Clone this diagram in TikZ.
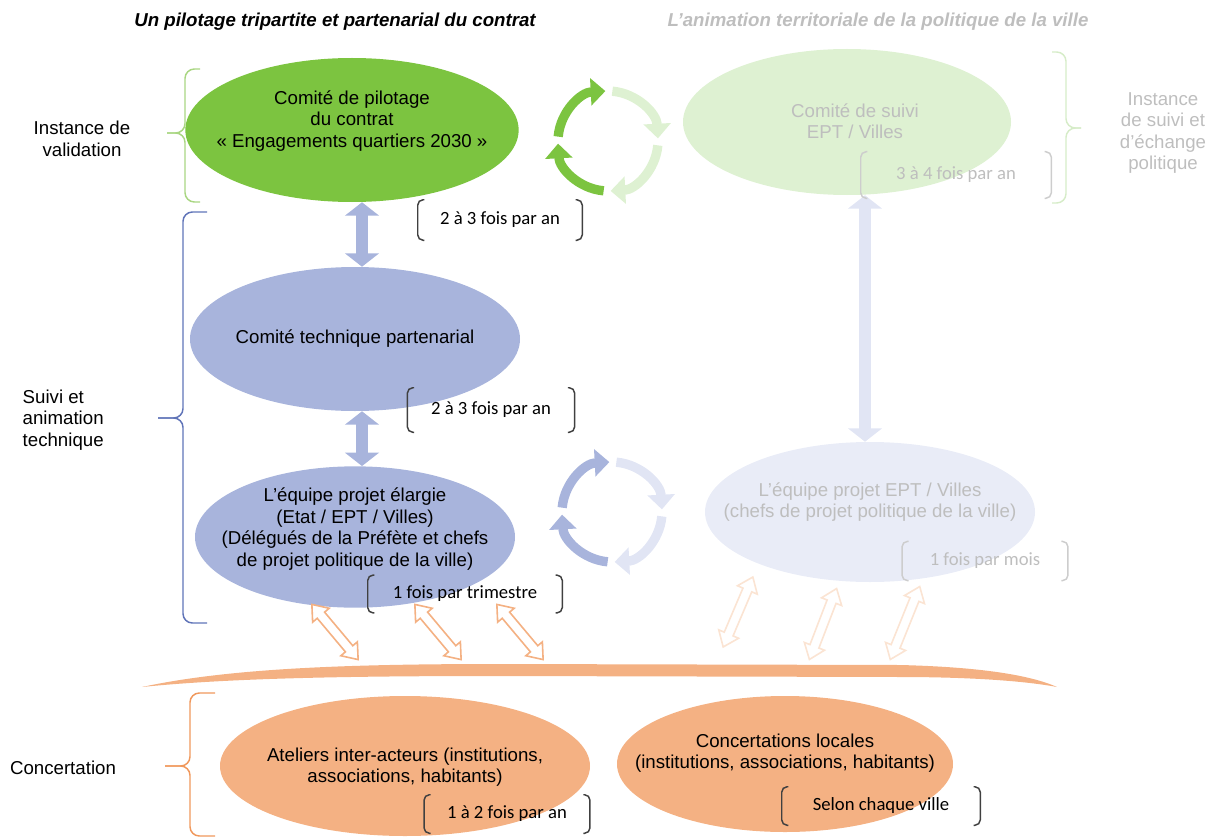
\documentclass[tikz,border=0pt]{standalone}
\usepackage{fontspec}
\setmainfont{Liberation Sans}
\newfontfamily\calibri{Carlito}
\usetikzlibrary{shapes.geometric}
\usetikzlibrary{shapes.arrows}
\usetikzlibrary{arrows.meta}

\definecolor{vert}{RGB}{124,196,64}
\definecolor{vertpale}{RGB}{222,241,210}
\definecolor{vertbrace}{RGB}{169,214,130}
\definecolor{vertbracepale}{RGB}{214,236,200}
\definecolor{bleu}{RGB}{168,180,220}
\definecolor{bleupale}{RGB}{233,236,247}
\definecolor{bleucyc}{RGB}{225,229,244}
\definecolor{bleufonce}{RGB}{96,116,184}
\definecolor{orangec}{RGB}{244,177,131}
\definecolor{orangepale}{RGB}{251,228,211}
\definecolor{orangefonce}{RGB}{240,152,92}
\definecolor{fonce}{RGB}{64,64,64}
\definecolor{gris}{RGB}{190,190,190}
\definecolor{grispale}{RGB}{205,205,205}

\begin{document}
\begin{tikzpicture}[x=0.75pt, y=-0.75pt,
  bulle/.style={ellipse, inner sep=0pt},
  txt/.style={align=center, font=\fontsize{14}{16.1}\selectfont},
  freq/.style={inner sep=0pt, font=\calibri\fontsize{14}{16}\selectfont},
  titre/.style={font=\bfseries\itshape\fontsize{14}{16}\selectfont},
  lien/.style={line width=9pt, {Triangle[width=25pt,length=10pt]}-{Triangle[width=25pt,length=10pt]}},
  cyc/.style={line width=7pt, -{Triangle[width=20pt,length=11pt]}},
  fleche/.style={double arrow, draw=orangec, fill=white, line width=1.2pt, inner sep=3pt,
                 double arrow head extend=4.5pt, double arrow tip angle=75},
  accolade/.style={line width=1.1pt, rounded corners=7pt}]
\useasboundingbox (0,0) rectangle (1209,838);

  % titles
  \node[titre] (tgauche) at (335,22) {Un pilotage tripartite et partenarial du contrat};
  \node[titre, text=gris] (tdroite) at (878,22) {L’animation territoriale de la politique de la ville};

  % ellipses
  \node[bulle, fill=vert, minimum width=250pt, minimum height=108pt] (copil) at (352,130) {};
  \node[bulle, fill=bleu, minimum width=247.5pt, minimum height=108pt] (cotech) at (355,339) {};
  \node[bulle, fill=bleu, minimum width=240pt, minimum height=106pt] (equipe) at (355,537) {};
  \node[bulle, fill=vertpale, minimum width=246pt, minimum height=109.5pt] (cosuivi) at (847,122) {};
  \node[bulle, fill=bleupale, minimum width=247.5pt, minimum height=105pt] (eqept) at (870,512) {};
  \node[bulle, fill=orangec, minimum width=277.5pt, minimum height=105pt] (ateliers) at (405,766) {};
  \node[bulle, fill=orangec, minimum width=252pt, minimum height=102pt] (concloc) at (785,764) {};

  % texts of the ellipses
  \node[txt] (tcopil) at (352,121) {Comité de pilotage\\du contrat\\«~Engagements quartiers 2030~»};
  \node[txt] (tcotech) at (355,339) {Comité technique partenarial};
  \node[txt] (tequipe) at (355,529) {L’équipe projet élargie\\(Etat / EPT / Villes)\\(Délégués de la Préfète et chefs\\de projet politique de la ville)};
  \node[txt, text=gris] (tcosuivi) at (855,121) {Comité de suivi\\EPT / Villes};
  \node[txt, text=gris] (teqept) at (870,502) {L’équipe projet EPT / Villes\\(chefs de projet politique de la ville)};
  \node[txt] (tateliers) at (405,767) {Ateliers inter-acteurs (institutions,\\associations, habitants)};
  \node[txt] (tconcloc) at (785,753) {Concertations locales\\(institutions, associations, habitants)};

  % side labels
  \node[txt] (lvalid) at (82,139) {Instance de\\validation};
  \node[txt, align=left, anchor=west] (lsuivi) at (18,420) {Suivi et\\animation\\technique};
  \node[txt] (lconcert) at (63,768) {Concertation};
  \node[txt, text=gris] (lpolit) at (1163,133) {Instance\\de suivi et\\d’échange\\politique};

  % braces
  \draw[accolade, vertbrace] (200,69) -- (185,69) -- (185,133) -- (167,133);
  \draw[accolade, vertbrace] (200,202) -- (185,202) -- (185,133) -- (167,133);
  \draw[accolade, bleufonce] (207,212) -- (183,212) -- (183,418) -- (158,418);
  \draw[accolade, bleufonce] (207,623) -- (183,623) -- (183,418) -- (158,418);
  \draw[accolade, orangefonce] (215,693) -- (190,693) -- (190,766) -- (165,766);
  \draw[accolade, orangefonce] (215,836) -- (190,836) -- (190,766) -- (165,766);
  \draw[accolade, vertbracepale] (1052,52) -- (1066,52) -- (1066,128) -- (1081,128);
  \draw[accolade, vertbracepale] (1052,203) -- (1066,203) -- (1066,128) -- (1081,128);

  % links between levels
  \draw[lien, bleu] ([xshift=7.5pt]copil.south) -- ([xshift=5.25pt]cotech.north);
  \draw[lien, bleu] ([xshift=5.25pt]cotech.south) -- ([xshift=5.25pt]equipe.north);
  \draw[lien, bleucyc] ([xshift=13.5pt]cosuivi.south) -- ([xshift=-3.75pt]eqept.north);

  % cycles
  \coordinate (cvert) at (608,141);
  \draw[cyc, vert] ([shift={(175:37.5pt)}]cvert) arc[start angle=175, end angle=93, radius=37.5pt];
  \draw[cyc, vertpale] ([shift={(85:37.5pt)}]cvert) arc[start angle=85, end angle=3, radius=37.5pt];
  \draw[cyc, vertpale] ([shift={(-5:37.5pt)}]cvert) arc[start angle=-5, end angle=-87, radius=37.5pt];
  \draw[cyc, vert] ([shift={(-95:37.5pt)}]cvert) arc[start angle=-95, end angle=-177, radius=37.5pt];

  \coordinate (cbleu) at (612,512);
  \draw[cyc, bleu] ([shift={(175:37.5pt)}]cbleu) arc[start angle=175, end angle=93, radius=37.5pt];
  \draw[cyc, bleucyc] ([shift={(85:37.5pt)}]cbleu) arc[start angle=85, end angle=3, radius=37.5pt];
  \draw[cyc, bleucyc] ([shift={(-5:37.5pt)}]cbleu) arc[start angle=-5, end angle=-87, radius=37.5pt];
  \draw[cyc, bleu] ([shift={(-95:37.5pt)}]cbleu) arc[start angle=-95, end angle=-177, radius=37.5pt];

  % frequencies
  \node[freq, minimum width=123pt, minimum height=30pt] (f1) at (500,220) {2 à 3 fois par an};
  \node[freq, minimum width=125pt, minimum height=33pt] (f2) at (491,410) {2 à 3 fois par an};
  \node[freq, minimum width=145.5pt, minimum height=28pt] (f3) at (465,594) {1 fois par trimestre};
  \node[freq, text=gris, minimum width=142.5pt, minimum height=34.5pt] (f4) at (956,175) {3 à 4 fois par an};
  \node[freq, text=gris, minimum width=124pt, minimum height=29pt] (f5) at (985,561) {1 fois par mois};
  \node[freq, minimum width=124pt, minimum height=28.5pt] (f6) at (507,814) {1 à 2 fois par an};
  \node[freq, minimum width=148.5pt, minimum height=28.5pt] (f7) at (881,806) {Selon chaque ville};
  \foreach \f/\c in {f1/fonce, f2/fonce, f3/fonce, f4/grispale, f5/grispale, f6/fonce, f7/fonce} {
    \draw[\c, line width=1.1pt, rounded corners=4pt] ([xshift=5pt]\f.north west) -- (\f.north west) -- (\f.south west) -- ([xshift=5pt]\f.south west);
    \draw[\c, line width=1.1pt, rounded corners=4pt] ([xshift=-5pt]\f.north east) -- (\f.north east) -- (\f.south east) -- ([xshift=-5pt]\f.south east);
  }

  % concertation band
  \fill[orangec] (142,687) .. controls (230,668) and (350,664) .. (500,664) -- (900,665)
    .. controls (980,667) and (1030,675) .. (1057,687) .. controls (1020,680) and (960,677) .. (900,677)
    -- (500,676) .. controls (350,676) and (230,678) .. (142,687) -- cycle;

  % exchange arrows
  \node[fleche, minimum height=54pt, rotate=-50] (fa) at (335,632) {};
  \node[fleche, minimum height=54pt, rotate=-50] (fb) at (438,632) {};
  \node[fleche, minimum height=54pt, rotate=-50] (fc) at (520,632) {};
  \node[fleche, draw=orangepale, minimum height=57pt, rotate=67] (fd) at (738,612) {};
  \node[fleche, draw=orangepale, minimum height=57pt, rotate=69] (fe) at (823,624) {};
  \node[fleche, draw=orangepale, minimum height=59pt, rotate=68] (ff) at (905,623) {};
\end{tikzpicture}
\end{document}
